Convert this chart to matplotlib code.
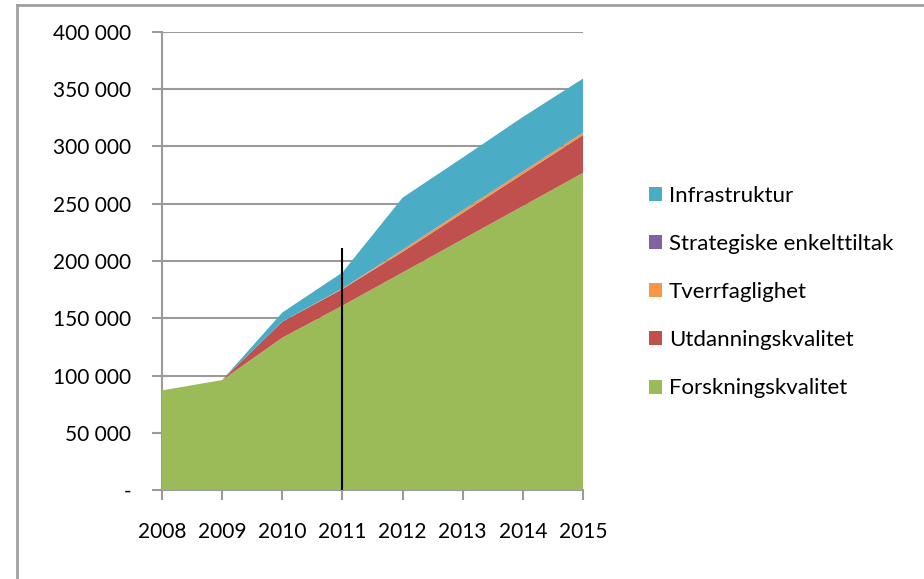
import matplotlib.pyplot as plt
from matplotlib.lines import Line2D
from matplotlib.patches import Patch

years = [2008, 2009, 2010, 2011, 2012, 2013, 2014, 2015]
forskning = [87000, 96000, 133000, 161000, 190000, 219000, 248000, 277000]
utdanning = [0, 0, 14000, 14500, 18000, 23000, 28000, 33000]
tverrfaglighet = [0, 0, 0, 500, 1500, 2000, 2000, 2000]
strategiske = [0, 0, 0, 0, 300, 300, 300, 300]
infrastruktur = [0, 0, 8000, 14000, 45500, 46000, 47500, 47000]

labels = ['Forskningskvalitet', 'Utdanningskvalitet', 'Tverrfaglighet',
          'Strategiske enkelttiltak', 'Infrastruktur']
colors = ['#9BBB59', '#C0504D', '#F79646', '#8064A2', '#4BACC6']
marker_year = 2011
marker_top = 211000

plt.rcParams['font.family'] = ['Lato', 'DejaVu Sans']

fig = plt.figure(figsize=(9.24, 5.79), dpi=100)
ax = fig.add_axes([162 / 924, 1 - 490 / 579, (583 - 162) / 924, (490 - 32) / 579])

ax.stackplot(years, forskning, utdanning, tverrfaglighet, strategiske, infrastruktur,
             colors=colors, linewidth=0, zorder=2)
ax.vlines(marker_year, 0, marker_top, color='black', linewidth=1.5, zorder=3)

ax.set_xlim(2008, 2015)
ax.set_ylim(0, 400000)
ax.set_xticks(years)
ax.set_yticks(range(0, 400001, 50000))
ax.set_yticklabels(['-' if v == 0 else f'{v:,}'.replace(',', ' ')
                    for v in range(0, 400001, 50000)])
ax.yaxis.grid(True, color='#9a9a9a', linewidth=1.5)
ax.set_axisbelow(True)
for s in ['top', 'right']:
    ax.spines[s].set_visible(False)
for s in ['left', 'bottom']:
    ax.spines[s].set_color('#9a9a9a')
    ax.spines[s].set_linewidth(1.5)
    ax.spines[s].set_zorder(1)
ax.tick_params(axis='both', colors='#9a9a9a', labelcolor='black', length=7, width=1.5,
               labelsize=15)
ax.tick_params(axis='x', pad=16)
ax.tick_params(axis='y', pad=15)

handles = [Patch(facecolor=c, edgecolor='none') for c in colors]
fig.legend(handles[::-1], labels[::-1], loc='center left',
           bbox_to_anchor=(649 / 924, 1 - 292 / 579), frameon=False, fontsize=16,
           labelspacing=1.27, handlelength=0.6, handleheight=0.6, handletextpad=0.3,
           borderpad=0, borderaxespad=0)

# chart frame
fig.add_artist(Line2D([17 / 924, 1], [1 - 5 / 579, 1 - 5 / 579], color='#a0a0a0', linewidth=2))
fig.add_artist(Line2D([17 / 924, 17 / 924], [0, 1 - 5 / 579], color='#a0a0a0', linewidth=2))

fig.savefig('out.png', dpi=100)
